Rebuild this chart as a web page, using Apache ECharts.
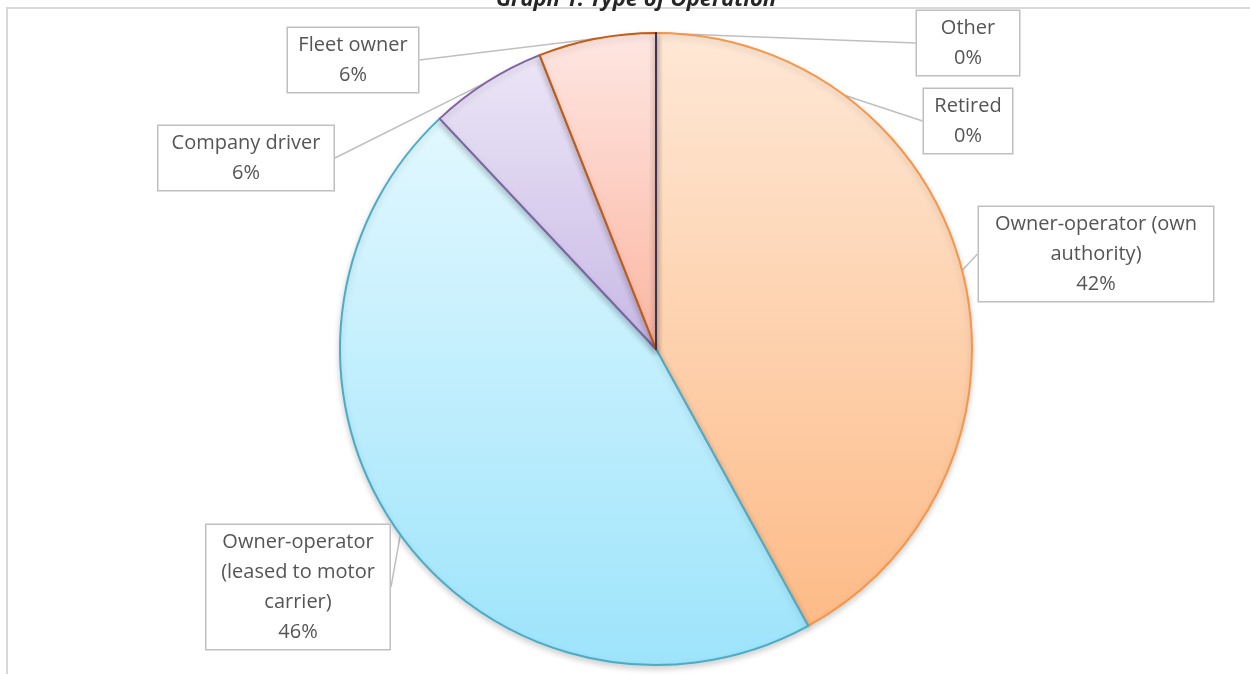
<!DOCTYPE html>
<html>
<head>
<meta charset="utf-8">
<title>Graph 1: Type of Operation</title>
<script src="https://cdn.jsdelivr.net/npm/echarts@6/dist/echarts.min.js"></script>
<style>
  html, body { margin: 0; padding: 0; background: #fff; }
  #chart { width: 1250px; height: 674px; }
</style>
</head>
<body>
<div id="chart"></div>
<script>
// data (percent of respondents)
const categories = ['Owner-operator (own authority)', 'Owner-operator (leased to motor carrier)', 'Company driver', 'Fleet owner', 'Retired', 'Other'];
const shares = [42, 46, 6, 6, 0, 0];
// how the label text wraps in the boxes
const labelText = ['Owner-operator (own\nauthority)', 'Owner-operator\n(leased to motor\ncarrier)', 'Company driver', 'Fleet owner', 'Retired', 'Other'];

// layout / style of labels and slices (not data)
const labelCenter = [[1096, 254], [298, 587], [246, 158], [353, 60], [968, 121], [968, 43]];
const labelWidth = [214, 163, 155, 110, 68, 82];
const fillTop = ['#fee8d6', '#e2f8ff', '#ece6f7', '#fee6e2', '#e0dde8', '#e0dde8'];
const fillBottom = ['#fdbb87', '#9de4fb', '#c8b9e5', '#fbb6a2', '#bfb8d0', '#bfb8d0'];
const edgeColor = ['#f79646', '#4bacc6', '#8064a2', '#c55a11', '#3f3151', '#3f3151'];

const chart = echarts.init(document.getElementById('chart'));

const pieData = categories.map((name, i) => ({
    name: name,
    value: shares[i],
    itemStyle: {
        color: new echarts.graphic.LinearGradient(0, 0, 0, 1, [
            { offset: 0, color: fillTop[i] },
            { offset: 1, color: fillBottom[i] }
        ]),
        borderColor: edgeColor[i]
    },
    label: { width: labelWidth[i] }
}));

const option = {
    animation: false,
    title: {
        text: 'Graph 1: Type of Operation',
        left: 631,
        textAlign: 'center',
        top: -16,
        textStyle: { fontFamily: 'Open Sans', fontSize: 22, fontWeight: 'bold', fontStyle: 'italic', color: '#262626' }
    },
    graphic: [
        { type: 'line', shape: { x1: 6, y1: 8, x2: 1250, y2: 8 }, style: { stroke: '#d9d9d9', lineWidth: 2 } },
        { type: 'line', shape: { x1: 7, y1: 8, x2: 7, y2: 674 }, style: { stroke: '#d9d9d9', lineWidth: 2 } }
    ],
    series: [
        {
            type: 'pie',
            center: [656, 349],
            radius: 316,
            startAngle: 90,
            clockwise: true,
            itemStyle: {
                borderWidth: 2,
                shadowBlur: 6,
                shadowOffsetY: 3,
                shadowColor: 'rgba(0,0,0,0.18)'
            },
            label: {
                show: true,
                formatter: function (p) {
                    return labelText[p.dataIndex] + '\n' + Math.round(p.percent) + '%';
                },
                fontFamily: 'Open Sans',
                fontSize: 20,
                lineHeight: 30,
                color: '#555555',
                align: 'center',
                overflow: 'none',
                backgroundColor: '#fff',
                borderColor: '#bfbfbf',
                borderWidth: 1.5,
                padding: [2, 10]
            },
            labelLine: {
                show: true,
                length2: 0,
                lineStyle: { color: '#bfbfbf', width: 1.5 }
            },
            labelLayout: function (params) {
                const c = labelCenter[params.dataIndex];
                return { x: c[0], y: c[1], align: 'center', verticalAlign: 'middle' };
            },
            emphasis: { disabled: true },
            data: pieData
        }
    ]
};

chart.setOption(option);
</script>
</body>
</html>
